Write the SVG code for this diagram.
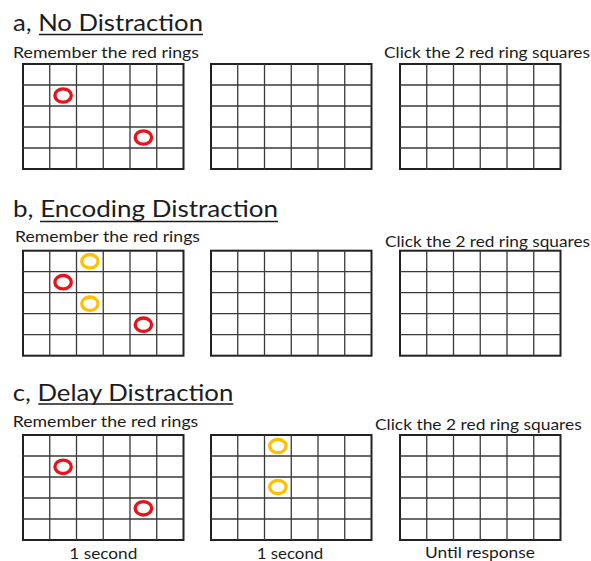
<svg xmlns="http://www.w3.org/2000/svg" xmlns:xlink="http://www.w3.org/1999/xlink" width="591" height="561" viewBox="0 0 591 561">
<style>
text{font-family:Lato,"Liberation Sans",sans-serif;fill:#1c1c1c}
.title{font-size:24px}
.sub{font-size:16px}
.ul{stroke:#1c1c1c;stroke-width:1.5}
.outer{fill:#fff;stroke:#222;stroke-width:2}
.inner{stroke:#3a3a3a;stroke-width:1.3;fill:none}
.red{fill:none;stroke:#e8121a;stroke-width:3.3}
.yel{fill:none;stroke:#ffc000;stroke-width:3.3}
</style>
<defs>
<g id="grid">
<rect class="outer" x="0" y="0" width="160.5" height="105"/>
<path class="inner" d="M26.75 0V105M53.5 0V105M80.25 0V105M107 0V105M133.75 0V105M0 21H160.5M0 42H160.5M0 63H160.5M0 84H160.5"/>
</g>
</defs>
<rect width="591" height="561" fill="#fff"/>

<g id="panel-a">
<text class="title" x="13" y="31" textLength="190" lengthAdjust="spacingAndGlyphs">a, No Distraction</text>
<line class="ul" x1="39" y1="34.5" x2="203" y2="34.5"/>
<text class="sub" x="13" y="57.7" textLength="186" lengthAdjust="spacingAndGlyphs">Remember the red rings</text>
<text class="sub" x="384" y="58" textLength="206" lengthAdjust="spacingAndGlyphs">Click the 2 red ring squares</text>
<g id="a-grid1"><use xlink:href="#grid" x="23" y="64"/>
<ellipse class="red" cx="63.1" cy="95.5" rx="8.2" ry="6.7"/>
<ellipse class="red" cx="143.4" cy="137.5" rx="8.2" ry="6.7"/></g>
<g id="a-grid2"><use xlink:href="#grid" x="211" y="64"/></g>
<g id="a-grid3"><use xlink:href="#grid" x="400" y="64"/></g>
</g>

<g id="panel-b">
<text class="title" x="13" y="216.5" textLength="265" lengthAdjust="spacingAndGlyphs">b, Encoding Distraction</text>
<line class="ul" x1="40" y1="221.5" x2="278" y2="221.5"/>
<text class="sub" x="15" y="241.5" textLength="185" lengthAdjust="spacingAndGlyphs">Remember the red rings</text>
<text class="sub" x="385" y="246.5" textLength="205" lengthAdjust="spacingAndGlyphs">Click the 2 red ring squares</text>
<g id="b-grid1"><use xlink:href="#grid" x="23" y="250.7"/>
<ellipse class="yel" cx="89.9" cy="261.2" rx="8.2" ry="6.7"/>
<ellipse class="red" cx="63.1" cy="282.2" rx="8.2" ry="6.7"/>
<ellipse class="yel" cx="89.9" cy="303.7" rx="8.2" ry="6.7"/>
<ellipse class="red" cx="143.4" cy="324.7" rx="8.2" ry="6.7"/></g>
<g id="b-grid2"><use xlink:href="#grid" x="211" y="250.7"/></g>
<g id="b-grid3"><use xlink:href="#grid" x="400" y="250.7"/></g>
</g>

<g id="panel-c">
<text class="title" x="12.7" y="401" textLength="220.6" lengthAdjust="spacingAndGlyphs">c, Delay Distraction</text>
<line class="ul" x1="38.3" y1="404" x2="233.3" y2="404"/>
<text class="sub" x="12.7" y="426.7" textLength="185.6" lengthAdjust="spacingAndGlyphs">Remember the red rings</text>
<text class="sub" x="375" y="430" textLength="206.7" lengthAdjust="spacingAndGlyphs">Click the 2 red ring squares</text>
<g id="c-grid1"><use xlink:href="#grid" x="23" y="435"/>
<ellipse class="red" cx="63.1" cy="466.8" rx="8.2" ry="6.7"/>
<ellipse class="red" cx="143.4" cy="508.3" rx="8.2" ry="6.7"/></g>
<g id="c-grid2"><use xlink:href="#grid" x="211" y="435"/>
<ellipse class="yel" cx="277.9" cy="446" rx="8.2" ry="6.7"/>
<ellipse class="yel" cx="277.9" cy="487" rx="8.2" ry="6.7"/></g>
<g id="c-grid3"><use xlink:href="#grid" x="400" y="435"/></g>
<text class="sub" x="69.3" y="558.5" textLength="68" lengthAdjust="spacingAndGlyphs">1 second</text>
<text class="sub" x="256.7" y="558.5" textLength="66.6" lengthAdjust="spacingAndGlyphs">1 second</text>
<text class="sub" x="425" y="557.5" textLength="110" lengthAdjust="spacingAndGlyphs">Until response</text>
</g>
<g id="connectors"/>
</svg>
